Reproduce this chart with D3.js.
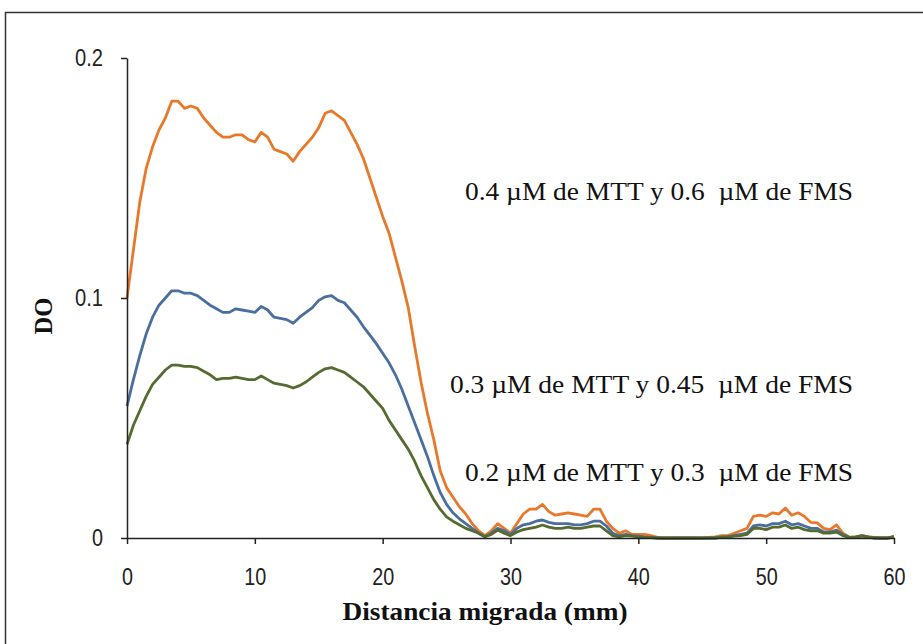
<!DOCTYPE html>
<html>
<head>
<meta charset="utf-8">
<script src="https://cdn.jsdelivr.net/npm/d3@7"></script>
<style>
  html, body { margin: 0; padding: 0; background: #fff; }
  svg { display: block; }
  .tick text { font-family: "Liberation Sans Narrow", "Arial Narrow", "Liberation Sans", sans-serif; }
</style>
</head>
<body>
<svg id="chart" width="923" height="644"></svg>
<script>
// Migration distance (mm), sampled every 0.5 mm
const distance = d3.range(0, 60.001, 0.5).map(v => +v.toFixed(1));

// Optical density (DO) for each MTT / FMS concentration
const do04 = [
  0.100, 0.120, 0.140, 0.154, 0.163, 0.170, 0.175, 0.182, 0.182, 0.179,
  0.180, 0.179, 0.175, 0.172, 0.169, 0.167, 0.167, 0.168, 0.168, 0.166,
  0.165, 0.169, 0.167, 0.162, 0.161, 0.160, 0.157, 0.161, 0.164, 0.167,
  0.171, 0.177, 0.178, 0.176, 0.174, 0.169, 0.164, 0.158, 0.150, 0.142,
  0.134, 0.127, 0.117, 0.107, 0.096, 0.080, 0.065, 0.052, 0.041, 0.028,
  0.021, 0.017, 0.013, 0.010, 0.006, 0.003, 0.001, 0.003, 0.006, 0.004,
  0.002, 0.006, 0.010, 0.012, 0.012, 0.014, 0.011, 0.0095, 0.010, 0.0105,
  0.010, 0.0095, 0.009, 0.012, 0.012, 0.007, 0.004, 0.002, 0.003, 0.0015,
  0.0015, 0.0015, 0.001, 0.0003, 0, 0, 0, 0, 0, 0,
  0, 0.0003, 0.0005, 0.001, 0.001, 0.002, 0.003, 0.004, 0.009, 0.0095,
  0.009, 0.0105, 0.010, 0.0125, 0.0095, 0.0105, 0.009, 0.0065, 0.0063, 0.004,
  0.0035, 0.0055, 0.002, 0.0003, 0.0005, 0.001, 0.0005, 0.0003, 0, 0,
  0.0008
];
const do03 = [
  0.055, 0.066, 0.076, 0.085, 0.092, 0.097, 0.100, 0.103, 0.103, 0.102,
  0.102, 0.101, 0.099, 0.097, 0.0955, 0.094, 0.094, 0.0955, 0.095, 0.0945,
  0.094, 0.0965, 0.095, 0.092, 0.0915, 0.091, 0.0895, 0.092, 0.094, 0.096,
  0.099, 0.1005, 0.101, 0.099, 0.098, 0.095, 0.092, 0.088, 0.0845, 0.081,
  0.077, 0.073, 0.068, 0.062, 0.055, 0.048, 0.041, 0.034, 0.026, 0.019,
  0.014, 0.0105, 0.008, 0.006, 0.004, 0.002, 0.0005, 0.002, 0.004, 0.003,
  0.0015, 0.004, 0.0055, 0.006, 0.007, 0.0075, 0.0065, 0.006, 0.006, 0.006,
  0.0055, 0.0055, 0.006, 0.007, 0.007, 0.005, 0.002, 0.001, 0.0015, 0.001,
  0.0008, 0.0005, 0.0003, 0, 0, 0, 0, 0, 0, 0,
  0, 0, 0, 0.0005, 0.0005, 0.001, 0.0015, 0.002, 0.005, 0.0055,
  0.005, 0.006, 0.006, 0.007, 0.0055, 0.006, 0.005, 0.004, 0.004, 0.0025,
  0.0025, 0.0033, 0.0015, 0.0003, 0.0003, 0.0008, 0.0003, 0, 0, 0,
  0.0005
];
const do02 = [
  0.039, 0.047, 0.053, 0.059, 0.064, 0.067, 0.070, 0.072, 0.072, 0.0715,
  0.0715, 0.071, 0.0695, 0.068, 0.066, 0.0665, 0.0665, 0.067, 0.0665, 0.066,
  0.066, 0.0675, 0.066, 0.0645, 0.064, 0.0635, 0.0625, 0.0635, 0.065, 0.067,
  0.069, 0.0705, 0.071, 0.070, 0.069, 0.067, 0.065, 0.063, 0.060, 0.057,
  0.054, 0.049, 0.045, 0.041, 0.037, 0.032, 0.026, 0.021, 0.016, 0.012,
  0.0088, 0.007, 0.0055, 0.004, 0.003, 0.002, 0.0005, 0.0015, 0.0033, 0.002,
  0.001, 0.0025, 0.0035, 0.004, 0.0045, 0.0054, 0.0045, 0.004, 0.004, 0.0045,
  0.004, 0.004, 0.0045, 0.005, 0.005, 0.003, 0.001, 0.0005, 0.001, 0.0008,
  0.0005, 0.0003, 0.0002, 0, 0, 0, 0, 0, 0, 0,
  0, 0, 0, 0.0003, 0.0005, 0.0008, 0.001, 0.0015, 0.004, 0.004,
  0.0035, 0.0045, 0.0045, 0.0054, 0.004, 0.0045, 0.0035, 0.003, 0.003, 0.002,
  0.002, 0.0025, 0.001, 0.0003, 0.0005, 0.001, 0.0005, 0, 0, 0,
  0.0005
];

const seriesNames = [
  "0.4 \u00B5M de MTT y 0.6 \u00A0\u00B5M de FMS",
  "0.3 \u00B5M de MTT y 0.45 \u00A0\u00B5M de FMS",
  "0.2 \u00B5M de MTT y 0.3 \u00A0\u00B5M de FMS"
];
const seriesColors = ["#E8782A", "#4A6E9E", "#556B2F"];
const seriesValues = [do04, do03, do02];

const xTicks = [0, 10, 20, 30, 40, 50, 60];
const yTicks = [0, 0.1, 0.2];
const xTitle = "Distancia migrada (mm)";
const yTitle = "DO";

const svg = d3.select("#chart");
const W = 923, H = 644;

// outer chart frame
svg.append("rect")
  .attr("x", 5.5).attr("y", 12.5)
  .attr("width", W).attr("height", H)
  .attr("fill", "#fff").attr("stroke", "#333").attr("stroke-width", 1.5);

const plot = { left: 127, right: 894, top: 58, bottom: 538 };

const x = d3.scaleLinear().domain([0, 60]).range([plot.left, plot.right]);
const y = d3.scaleLinear().domain([0, 0.2]).range([plot.bottom, plot.top]);

// series lines (drawn first so the x axis sits over the baseline)
const line = d3.line()
  .x((d, i) => x(distance[i]))
  .y(d => y(d));

svg.append("g").selectAll("path")
  .data(seriesValues)
  .join("path")
  .attr("d", d => line(d))
  .attr("fill", "none")
  .attr("stroke", (d, i) => seriesColors[i])
  .attr("stroke-width", 2.8)
  .attr("stroke-linejoin", "round");

// axes
const yAxis = svg.append("g")
  .attr("transform", `translate(${plot.left},0)`)
  .call(d3.axisLeft(y).tickValues(yTicks).tickFormat(d => d === 0 ? "0" : d3.format(".1f")(d))
    .tickSize(6).tickSizeOuter(0).tickPadding(18));

const xAxis = svg.append("g")
  .attr("transform", `translate(0,${plot.bottom})`)
  .call(d3.axisBottom(x).tickValues(xTicks).tickFormat(d3.format("d"))
    .tickSize(6).tickSizeOuter(0).tickPadding(24));

[xAxis, yAxis].forEach(g => {
  g.select(".domain").attr("stroke", "#222").attr("stroke-width", 1.5);
  g.selectAll(".tick line").attr("stroke", "#222").attr("stroke-width", 1.5);
  g.selectAll(".tick text")
    .attr("fill", "#222")
    .attr("font-size", 24)
    .attr("font-weight", 300)
    // narrow digits: about 11px per digit, 6px for the decimal point
    .attr("textLength", function () {
      const s = d3.select(this).text();
      return s.replace(/\./g, "").length * 11 + (s.includes(".") ? 6 : 0);
    })
    .attr("lengthAdjust", "spacingAndGlyphs");
});

// axis titles
svg.append("text")
  .attr("x", 485).attr("y", 620)
  .attr("text-anchor", "middle")
  .attr("font-family", "Liberation Serif, serif")
  .attr("font-weight", "bold")
  .attr("font-size", 25)
  .attr("fill", "#111")
  .attr("textLength", 285)
  .attr("lengthAdjust", "spacingAndGlyphs")
  .text(xTitle);

svg.append("text")
  .attr("transform", "translate(52,316) rotate(-90)")
  .attr("text-anchor", "middle")
  .attr("font-family", "Liberation Serif, serif")
  .attr("font-weight", "bold")
  .attr("font-size", 25)
  .attr("fill", "#111")
  .attr("textLength", 37)
  .attr("lengthAdjust", "spacingAndGlyphs")
  .text(yTitle);

// series labels, right-aligned inside the plot
const labelY = [200, 393, 481];
const labelWidth = [388, 403, 388];
svg.append("g").selectAll("text")
  .data(seriesNames)
  .join("text")
  .attr("x", 853)
  .attr("y", (d, i) => labelY[i])
  .attr("text-anchor", "end")
  .attr("font-family", "Liberation Serif, serif")
  .attr("font-size", 25)
  .attr("fill", "#111")
  .attr("textLength", (d, i) => labelWidth[i])
  .attr("lengthAdjust", "spacingAndGlyphs")
  .text(d => d);
</script>
</body>
</html>
